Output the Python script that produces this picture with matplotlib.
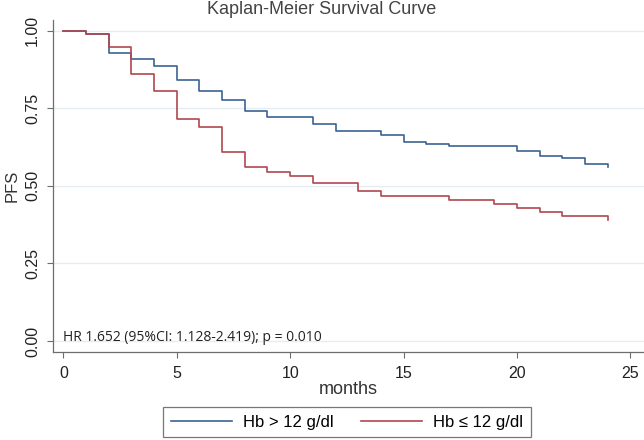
import matplotlib
matplotlib.use("Agg")
import matplotlib.pyplot as plt
from matplotlib.lines import Line2D

# Data (months, survival)
months = [0, 1, 2, 3, 4, 5, 6, 7, 8, 9, 10, 11, 12, 13, 14, 15, 16, 17, 18, 19, 20, 21, 22, 23, 24]
pfs_high = [1.000, 0.989, 0.929, 0.908, 0.886, 0.841, 0.807, 0.777, 0.742, 0.721, 0.721, 0.699, 0.677,
            0.677, 0.664, 0.641, 0.635, 0.627, 0.627, 0.627, 0.612, 0.597, 0.590, 0.569, 0.562]
pfs_low = [1.000, 0.989, 0.948, 0.859, 0.806, 0.715, 0.689, 0.610, 0.560, 0.545, 0.532, 0.508, 0.508,
           0.483, 0.468, 0.468, 0.468, 0.456, 0.456, 0.441, 0.428, 0.415, 0.402, 0.402, 0.390]
labels = ["Hb > 12 g/dl", "Hb ≤ 12 g/dl"]
yticks = [0.0, 0.25, 0.5, 0.75, 1.0]
ytick_labels = ["0.00", "0.25", "0.50", "0.75", "1.00"]
xticks = [0, 5, 10, 15, 20, 25]
annotation = "HR 1.652 (95%CI: 1.128-2.419); p = 0.010"

blue = "#3b6391"
red = "#b0474f"
grid_c = "#e6edf2"
axis_c = "#6e6e6e"

plt.rcParams['font.family'] = ['Liberation Sans', 'DejaVu Sans']

fig = plt.figure(figsize=(6.44, 4.40), dpi=100)
ax = fig.add_axes([52.7 / 644, 1 - 351.7 / 440, 1 - 52.7 / 644, (351.7 - 20) / 440])

ax.step(months, pfs_high, where='post', color=blue, lw=1.2, zorder=3)
ax.step(months, pfs_low, where='post', color=red, lw=1.2, zorder=3)

ax.set_xlim(-0.47, 25.6)
ax.set_ylim(-0.0345, 1.0345)
ax.set_xticks(xticks)
ax.set_yticks(yticks)
ax.set_yticklabels(ytick_labels, rotation=90, va='center')
ax.tick_params(axis='both', colors=axis_c, labelcolor='#222222', labelsize=11.5, length=4, width=0.8)
ax.tick_params(axis='x', pad=6)
ax.tick_params(axis='y', pad=5)

for y in yticks:
    ax.axhline(y, color=grid_c, lw=1.0, zorder=1)

for s in ['top', 'right']:
    ax.spines[s].set_visible(False)
for s in ['left', 'bottom']:
    ax.spines[s].set_color(axis_c)
    ax.spines[s].set_linewidth(0.9)

ax.set_xlabel("months", fontsize=13, color='#333333', labelpad=0)
ax.set_ylabel("PFS", fontsize=12, color='#333333', labelpad=4)

ax.text(0.0, 0.012, annotation, fontsize=10, family=['Open Sans', 'DejaVu Sans'],
        color='#222222', transform=ax.transData, va='center', ha='left', zorder=4)

fig.text(0.5, 1 - 10 / 440, "Kaplan-Meier Survival Curve", ha='center', va='center',
         fontsize=13, color='#444444')

handles = [Line2D([0], [0], color=blue, lw=1.2), Line2D([0], [0], color=red, lw=1.2)]
leg = fig.legend(handles, labels, loc='center', bbox_to_anchor=(347 / 644, 1 - 422 / 440),
                 ncol=2, frameon=True, fancybox=False, edgecolor='#555555', fontsize=12,
                 handlelength=3.7, columnspacing=1.6, borderpad=0.45, handletextpad=0.66)
leg.get_frame().set_linewidth(0.9)

fig.savefig("out.png", dpi=100)
